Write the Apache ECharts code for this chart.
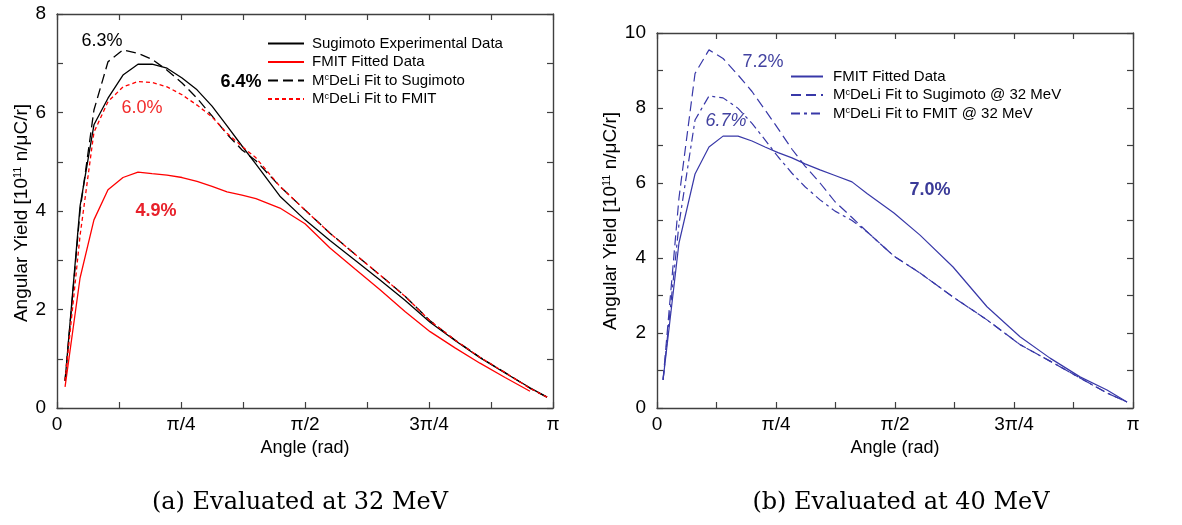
<!DOCTYPE html>
<html lang="en">
<head>
<meta charset="utf-8">
<title>Angular Yield</title>
<script src="https://cdn.jsdelivr.net/npm/echarts@6/dist/echarts.min.js"></script>
<style>
    html, body { margin: 0; padding: 0; background: #fff; }
    #chart { width: 1182px; height: 525px; }
</style>
</head>
<body>
<div id="chart"></div>
<script>
    // (a) evaluated at 32 MeV -- angles in rad
    var anglesA = [0.051, 0.146, 0.234, 0.323, 0.418, 0.513, 0.602, 0.697, 0.792, 0.887, 0.982, 1.077, 1.172,
        1.260, 1.412, 1.571, 1.729, 1.888, 2.046, 2.204, 2.363, 2.521, 2.679, 2.838, 2.996, 3.104];
    var sugimotoExpA = [0.55, 4.1, 5.75, 6.29, 6.76, 6.98, 6.98, 6.90, 6.70, 6.46, 6.13, 5.73, 5.32,
        4.95, 4.3, 3.82, 3.4, 3.0, 2.6, 2.19, 1.74, 1.37, 1.02, 0.71, 0.41, 0.22];
    var fmitFitA = [0.43, 2.64, 3.82, 4.43, 4.68, 4.79, 4.76, 4.73, 4.68, 4.6, 4.5, 4.39, 4.32,
        4.25, 4.06, 3.74, 3.25, 2.82, 2.4, 1.96, 1.55, 1.22, 0.91, 0.62, 0.34, null];
    var mcdeliSugimotoA = [0.55, 4.0, 6.05, 7.03, 7.27, 7.20, 7.08, 6.86, 6.60, 6.29, 5.93, 5.56, 5.24,
        5.02, 4.5, 4.02, 3.55, 3.12, 2.7, 2.27, 1.77, 1.38, 1.03, 0.72, 0.40, 0.22];
    var mcdeliFmitA = [0.55, 3.5, 5.6, 6.22, 6.52, 6.63, 6.61, 6.52, 6.36, 6.15, 5.91, 5.58, 5.31,
        5.08, 4.5, 4.02, 3.55, 3.12, 2.7, 2.27, 1.77, 1.38, 1.03, 0.72, 0.40, 0.22];

    // (b) evaluated at 40 MeV
    var anglesB = [0.040, 0.145, 0.251, 0.343, 0.436, 0.535, 0.627, 0.713, 0.799, 0.891, 0.977, 1.076,
        1.175, 1.287, 1.386, 1.564, 1.736, 1.954, 2.178, 2.396, 2.594, 2.792, 2.970, 3.102];
    var fmitFitB = [0.75, 4.4, 6.24, 6.96, 7.25, 7.25, 7.12, 6.96, 6.81, 6.67, 6.51, 6.35,
        6.2, 6.03, 5.72, 5.2, 4.61, 3.76, 2.7, 1.9, 1.33, 0.83, 0.48, 0.16];
    var mcdeliSugimotoB = [0.75, 5.6, 8.92, 9.55, 9.32, 8.88, 8.44, 7.95, 7.45, 6.9, 6.45, 6.0,
        5.5, 5.08, 4.7, 4.05, 3.6, 2.96, 2.35, 1.69, 1.25, 0.80, 0.40, 0.16];
    var mcdeliFmitB = [0.75, 4.9, 7.68, 8.32, 8.27, 7.99, 7.59, 7.15, 6.7, 6.26, 5.9, 5.55,
        5.25, 5.0, 4.7, 4.05, 3.6, 2.96, 2.35, 1.69, 1.25, 0.80, 0.40, 0.16];

    var piLabels = ['0', 'π/4', 'π/2', '3π/4', 'π'];
    var yMaxA = 8;
    var yMaxB = 10;

    var FONT = 'Liberation Sans';
    var RED = '#ff0000';
    var BLUE = '#3838a8';
    var FRAME = '#404040';

    // x stored in units of pi so the ticks land on pi/8 exactly
    function pairs(xs, ys) {
        return xs.map(function (x, i) { return [x / Math.PI, ys[i]]; });
    }

    function xAxes(grid) {
        var base = {
            gridIndex: grid, type: 'value', min: 0, max: 1, interval: 0.125,
            axisLine: { onZero: false, lineStyle: { color: FRAME, width: 1.4 } },
            axisTick: { inside: true, length: 6, lineStyle: { color: FRAME, width: 1.2 } },
            splitLine: { show: false }
        };
        var bottom = Object.assign({}, base, {
            position: 'bottom',
            name: 'Angle (rad)', nameLocation: 'middle', nameGap: 31,
            nameTextStyle: { fontFamily: FONT, fontSize: 18, color: '#000' },
            axisLabel: {
                margin: 7, fontFamily: FONT, fontSize: 19, color: '#000',
                formatter: function (v) {
                    var k = Math.round(v * 8);
                    return k % 2 ? '' : piLabels[k / 2];
                }
            }
        });
        var top = Object.assign({}, base, { position: 'top', axisLabel: { show: false } });
        return [bottom, top];
    }

    function yAxes(grid, max) {
        var base = {
            gridIndex: grid, type: 'value', min: 0, max: max, interval: 1,
            axisLine: { show: true, onZero: false, lineStyle: { color: FRAME, width: 1.4 } },
            axisTick: { show: true, inside: true, length: 6, lineStyle: { color: FRAME, width: 1.2 } },
            splitLine: { show: false }
        };
        var left = Object.assign({}, base, {
            position: 'left',
            axisLabel: {
                margin: 11, fontFamily: FONT, fontSize: 19, color: '#000',
                formatter: function (v) { return v % 2 ? '' : String(v); }
            }
        });
        var right = Object.assign({}, base, { position: 'right', axisLabel: { show: false } });
        return [left, right];
    }

    function line(name, xi, yi, data, color, type, width) {
        return {
            name: name, type: 'line', xAxisIndex: xi, yAxisIndex: yi,
            data: data, showSymbol: false, symbol: 'none', silent: true,
            lineStyle: { color: color, width: width || 1.3, type: type },
            itemStyle: { color: color }
        };
    }

    function yName(x, y) {
        return {
            type: 'text', x: x, y: y, rotation: Math.PI / 2,
            style: {
                text: 'Angular Yield [10{s|11} n/μC/r]',
                fontFamily: FONT, fontSize: 19, fill: '#000',
                align: 'center', verticalAlign: 'middle',
                rich: { s: { fontSize: 11, verticalAlign: 'top', lineHeight: 20 } }
            }
        };
    }

    function note(x, y, text, color, weight, style) {
        return {
            type: 'text', x: x, y: y,
            style: {
                text: text, fontFamily: FONT, fontSize: 18, fill: color,
                fontWeight: weight || 'normal', fontStyle: style || 'normal',
                align: 'center', verticalAlign: 'middle'
            }
        };
    }

    function caption(x, text) {
        return {
            type: 'text', x: x, y: 503,
            style: {
                text: text, fontFamily: 'DejaVu Serif', fontSize: 24, fill: '#000',
                align: 'center', verticalAlign: 'middle'
            }
        };
    }

    var legendRich = { c: { fontSize: 9, verticalAlign: 'top', lineHeight: 14 } };
    function mc(name) {
        return name.replace(' (40 MeV)', '').replace('Mc', 'M{c|c}');
    }

    var chart = echarts.init(document.getElementById('chart'), null, { renderer: 'canvas' });

    var option = {
        animation: false,
        backgroundColor: '#fff',
        grid: [
            { left: 57, top: 14, width: 496, height: 394 },
            { left: 657, top: 33, width: 476, height: 375 }
        ],
        xAxis: xAxes(0).concat(xAxes(1)),
        yAxis: yAxes(0, yMaxA).concat(yAxes(1, yMaxB)),
        legend: [
            {
                left: 262, top: 31, orient: 'vertical', itemWidth: 36, itemHeight: 14, itemGap: 3.5,
                selectedMode: false,
                itemStyle: { opacity: 0 },
                data: ['Sugimoto Experimental Data', 'FMIT Fitted Data', 'McDeLi Fit to Sugimoto', 'McDeLi Fit to FMIT'],
                formatter: mc,
                textStyle: { fontFamily: FONT, fontSize: 15, lineHeight: 14, color: '#000', padding: [0, 0, 0, 3], rich: legendRich }
            },
            {
                left: 785, top: 64, orient: 'vertical', itemWidth: 32, itemHeight: 14, itemGap: 3.5,
                selectedMode: false,
                itemStyle: { opacity: 0 },
                data: ['FMIT Fitted Data (40 MeV)', 'McDeLi Fit to Sugimoto @ 32 MeV', 'McDeLi Fit to FMIT @ 32 MeV'],
                formatter: mc,
                textStyle: { fontFamily: FONT, fontSize: 15, lineHeight: 14, color: '#000', padding: [0, 0, 0, 5], rich: legendRich }
            }
        ],
        series: [
            line('Sugimoto Experimental Data', 0, 0, pairs(anglesA, sugimotoExpA), '#000', 'solid'),
            line('FMIT Fitted Data', 0, 0, pairs(anglesA, fmitFitA), RED, 'solid'),
            line('McDeLi Fit to Sugimoto', 0, 0, pairs(anglesA, mcdeliSugimotoA), '#000', [10, 5]),
            line('McDeLi Fit to FMIT', 0, 0, pairs(anglesA, mcdeliFmitA), RED, [4, 3]),
            line('FMIT Fitted Data (40 MeV)', 2, 2, pairs(anglesB, fmitFitB), BLUE, 'solid', 1.2),
            line('McDeLi Fit to Sugimoto @ 32 MeV', 2, 2, pairs(anglesB, mcdeliSugimotoB), BLUE, [10, 5], 1.2),
            line('McDeLi Fit to FMIT @ 32 MeV', 2, 2, pairs(anglesB, mcdeliFmitB), BLUE, [9, 4, 3, 4], 1.2)
        ],
        graphic: [
            yName(22, 213),
            yName(611, 221),
            note(102, 41, '6.3%', '#000'),
            note(241, 82, '6.4%', '#000', 'bold'),
            note(142, 108, '6.0%', '#f22a2a'),
            note(156, 211, '4.9%', '#e8202a', 'bold'),
            note(763, 62, '7.2%', '#4242a0'),
            note(726, 121, '6.7%', '#4242a0', 'normal', 'italic'),
            note(930, 190, '7.0%', '#3a3a98', 'bold'),
            caption(300, '(a) Evaluated at 32 MeV'),
            caption(901, '(b) Evaluated at 40 MeV')
        ]
    };

    chart.setOption(option);
</script>
</body>
</html>
